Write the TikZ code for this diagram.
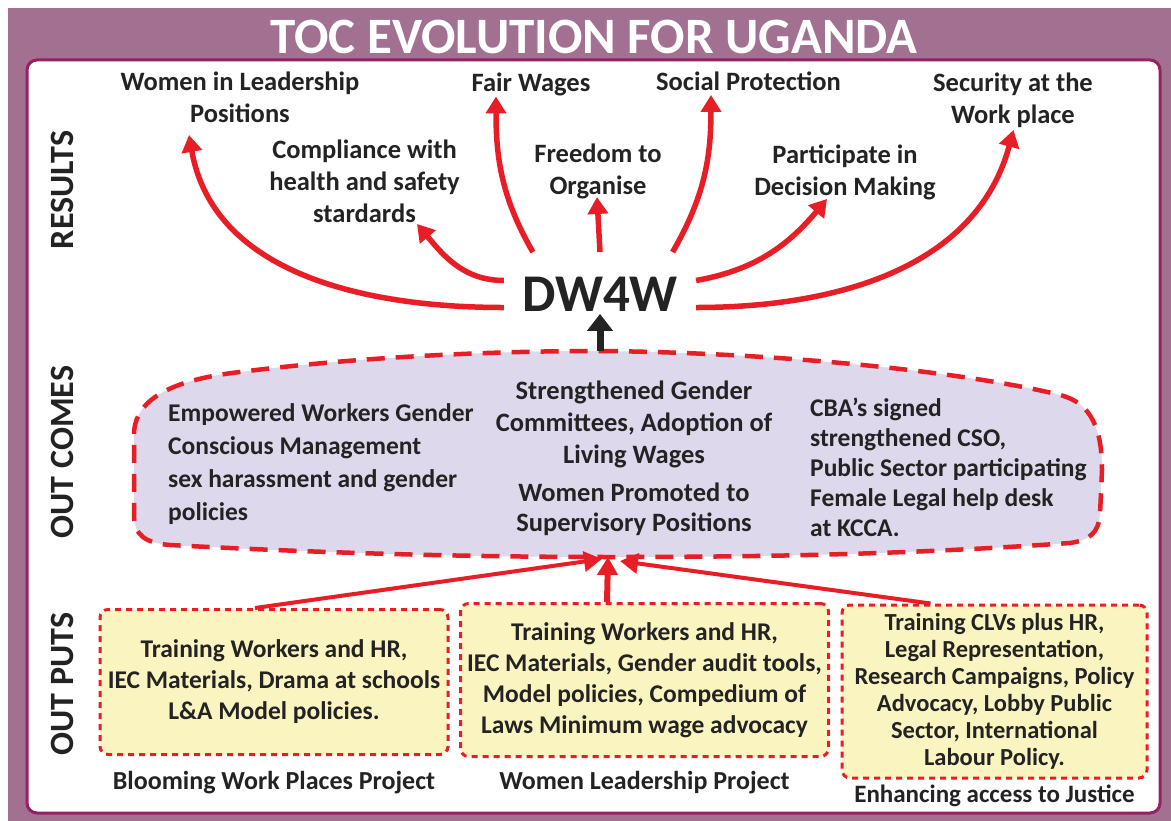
\documentclass[tikz,border=0pt]{standalone}
\usepackage{fontspec}
\setmainfont{Carlito}
\usetikzlibrary{arrows.meta,positioning}

\definecolor{tocpurple}{RGB}{162,112,145}
\definecolor{tocframe}{RGB}{150,32,100}
\definecolor{tocred}{RGB}{232,30,38}
\definecolor{toclilac}{RGB}{221,216,235}
\definecolor{tocyellow}{RGB}{250,245,192}
\definecolor{tocink}{RGB}{35,35,35}

\begin{document}
\begin{tikzpicture}[x=1pt,y=1pt,
  band/.style={rotate=90,inner sep=0pt,text=tocink,font=\fontsize{34}{36}\selectfont\bfseries},
  result/.style={align=center,inner sep=0pt,text=tocink,font=\fontsize{26.5}{32}\selectfont\bfseries},
  outcome/.style={inner sep=0pt,text=tocink,font=\fontsize{25.5}{#1}\selectfont\bfseries},
  output/.style={draw=tocred,fill=tocyellow,line width=3pt,dash pattern=on 6pt off 5pt,rounded corners=8pt,
    align=center,inner sep=0pt,text=tocink,font=\fontsize{25.5}{31}\selectfont\bfseries},
  project/.style={inner sep=0pt,text=tocink,font=\fontsize{26}{30}\selectfont\bfseries},
  link/.style={tocred,line width=5.5pt,-{Triangle[length=17pt,width=20pt]}},
  feed/.style={tocred,line width=4pt,-{Triangle[length=18pt,width=20pt]}}]
\useasboundingbox (0,0) rectangle (1171,-821);
\fill[tocpurple] (8,-8) rectangle (1171,-821);
\draw[tocframe,line width=3pt,fill=white,rounded corners=10pt] (27,-60) rectangle (1160,-813);
\node[text=white,inner sep=0pt,font=\fontsize{51}{51}\selectfont\bfseries] (title) at (594,-37) {TOC EVOLUTION FOR UGANDA};

\foreach \name/\y/\txt in {resband/190/RESULTS,ocband/452/OUT COMES,opband/684/OUT PUTS}
  \node[band] (\name) at (62,-\y) {\txt};

% results row
\foreach \name/\x/\y/\txt in {
    wlp/240/-97/{Women in Leadership\\Positions},
    fw/531/-84.5/{Fair Wages},
    sp/748.5/-81/{Social Protection},
    sec/1013/-100/{Security at the\\Work place},
    chs/364.5/-181/{Compliance with\\health and safety\\stardards},
    fto/598/-171/{Freedom to\\Organise},
    pdm/845/-172/{Participate in\\Decision Making}%
}{
  \node[result] (\name) at (\x,\y) {\txt};
}
\foreach \name/\dx/\dy in {wlp/-51/-38,fw/-35/-12,sp/-37.5/-14,sec/0.5/-30,chs/52.5/-43,fto/-1/-26,pdm/-18/-27}
  \coordinate (\name-tip) at ([shift={(\dx,\dy)}]\name.center);

\node[text=tocink,inner xsep=18pt,inner ysep=24.5pt,font=\fontsize{53}{53}\selectfont\bfseries] (dw) at (600,-294) {DW4W};

\foreach \from/\to/\out/\in in {188/wlp/180/-80,172/chs/180/-50,148/fw/120/-90,30/sp/60/-90,8/pdm/10/-130,-8/sec/0/-105}
  \draw[link] (dw.\from) to[out=\out,in=\in] (\to-tip);
\draw[link] (dw.north) -- (fto-tip);

% outcomes
\coordinate (oc-top) at (600,-351);
\coordinate (oc-bot) at (608,-557);
\draw[tocred,fill=toclilac,line width=4.5pt,dash pattern=on 18pt off 11pt]
  (600,-351) .. controls (800,-353) and (980,-375) .. (1060,-395)
  .. controls (1092,-403) and (1102,-430) .. (1102,-470)
  -- (1100,-515) .. controls (1098,-533) and (1090,-540) .. (1070,-543)
  .. controls (900,-555) and (750,-557) .. (608,-557)
  .. controls (450,-557) and (300,-552) .. (170,-545)
  .. controls (145,-543) and (134,-535) .. (134,-515)
  -- (134,-435) .. controls (134,-400) and (170,-380) .. (240,-372)
  .. controls (350,-358) and (480,-351) .. cycle;

\node[outcome=33,align=left,anchor=west] (empw) at (168,-464) {Empowered Workers Gender\\Conscious Management\\sex harassment and gender\\policies};
\node[outcome=32,align=center,font=\fontsize{26.5}{32}\selectfont\bfseries] (gcom) at (634,-424.5) {Strengthened Gender\\Committees, Adoption of\\Living Wages};
\node[outcome=30,align=center,font=\fontsize{26.5}{30}\selectfont\bfseries] (wprom) at (634,-509.5) {Women Promoted to\\Supervisory Positions};
\node[outcome=30,align=left,anchor=west] (cba) at (810,-467) {CBA’s signed\\strengthened CSO,\\Public Sector participating\\Female Legal help desk\\at KCCA.};

\draw[tocink,line width=7pt,-{Triangle[length=17pt,width=25pt]}] (oc-top) -- ([yshift=22pt]dw.south);

% outputs
\node[output,minimum width=348pt,minimum height=145pt] (bwp) at (274,-682) {Training Workers and HR,\\IEC Materials, Drama at schools\\L\&A Model policies.};
\node[output,minimum width=368pt,minimum height=153pt] (wlpj) at (644.5,-680) {Training Workers and HR,\\IEC Materials, Gender audit tools,\\Model policies, Compedium of\\Laws Minimum wage advocacy};
\node[output,minimum width=305pt,minimum height=173pt,font=\fontsize{24.5}{27}\selectfont\bfseries] (eaj) at (994.5,-691.5) {Training CLVs plus HR,\\Legal Representation,\\Research Campaigns, Policy\\Advocacy, Lobby Public\\Sector, International\\Labour Policy.};

\node[project,below=15pt of bwp] (bwplab) {Blooming Work Places Project};
\node[project,below=13pt of wlpj] (wlplab) {Women Leadership Project};
\node[project,below=5pt of eaj,font=\fontsize{25}{27}\selectfont\bfseries] (eajlab) {Enhancing access to Justice};

\draw[feed] ([xshift=-19pt]bwp.north) -- ([shift={(-6,-2)}]oc-bot);
\draw[feed,line width=6pt] ([xshift=-37.5pt]wlpj.north) -- (oc-bot);
\draw[feed] ([xshift=-64pt]eaj.north) -- ([shift={(12,-4)}]oc-bot);
\end{tikzpicture}
\end{document}
